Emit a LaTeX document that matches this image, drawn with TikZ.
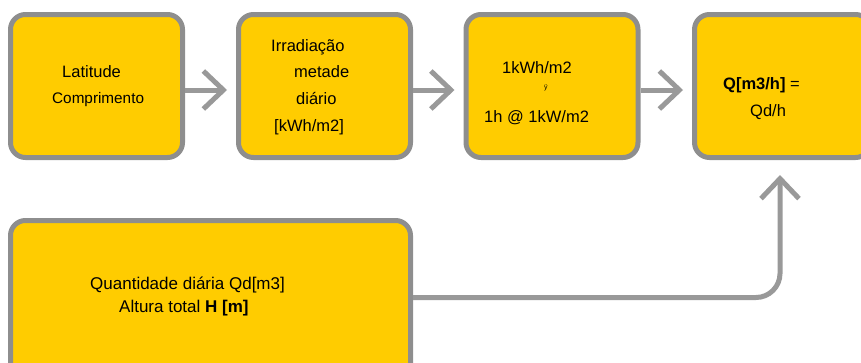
\documentclass[tikz,border=0pt]{standalone}
\usepackage{fontspec}
\setmainfont{Liberation Sans}
\usetikzlibrary{arrows.meta}
\definecolor{boxyellow}{HTML}{FFCC00}
\definecolor{boxgray}{HTML}{8E8E8E}
\definecolor{flowgray}{HTML}{999999}
\begin{document}
\begin{tikzpicture}%
  [x=1pt,y=-1pt,font=\fontsize{16.5}{20}\selectfont,
   flow/.style={draw=flowgray,line width=5pt,
     -{Straight Barb[length=20pt,width=38pt]}}]
  \tikzstyle{box node}=[rectangle,rounded corners=15pt,draw=boxgray,
    line width=5pt,fill=boxyellow,minimum width=172pt,minimum height=143pt]
  \tikzstyle{txt node}=[anchor=west,inner sep=0pt]
  \useasboundingbox (0,0) rectangle (861,362);
  \clip (0,0) rectangle (861,362);
  % top row
  \node(b1)[box node] at (96.5,86){};
  \node(b2)[box node] at (324.5,86){};
  \node(b3)[box node] at (552,86){};
  \node(b4)[box node,minimum width=176pt] at (782.5,86){};
  % bottom box
  \node(b5)[box node,minimum width=400pt,minimum height=160pt] at (210.5,300.5){};
  % texts
  \node(lat)[txt node] at (62,72){Latitude};
  \node(comp)[txt node,font=\fontsize{15.3}{18}\selectfont] at (52,100){Comprimento};
  \node(irr)[txt node] at (271,47){Irradiação};
  \node(met)[txt node] at (294,72){metade};
  \node(dia)[txt node] at (296,99){diário};
  \node(kwh)[txt node] at (274,127){[kWh/m2]};
  \node(one)[txt node] at (502,68){1kWh/m2};
  \node(yy)[txt node,font=\fontsize{7}{8}\selectfont] at (544,88){ÿ};
  \node(hour)[txt node] at (484,118){1h @ 1kW/m2};
  \node(q)[txt node] at (723,85){\textbf{Q[m3/h]} =};
  \node(qd)[txt node] at (750,112){Qd/h};
  \node(qty)[txt node,font=\fontsize{17}{20}\selectfont] at (90,285){Quantidade diária Qd[m3]};
  \node(alt)[txt node,font=\fontsize{17}{20}\selectfont] at (119,308){Altura total \textbf{H [m]}};
  % connectors
  \draw[flow] ([yshift=-4pt]b1.east) -- ([xshift=-9pt,yshift=-4pt]b2.west);
  \draw[flow] ([yshift=-4pt]b2.east) -- ([xshift=-9pt,yshift=-4pt]b3.west);
  \draw[flow] ([yshift=-4pt]b3.east) -- ([xshift=-9pt,yshift=-4pt]b4.west);
  \draw[flow,rounded corners=24pt] ([yshift=3pt]b5.east) -| ([xshift=-2.5pt,yshift=-15pt]b4.south);
\end{tikzpicture}
\end{document}
